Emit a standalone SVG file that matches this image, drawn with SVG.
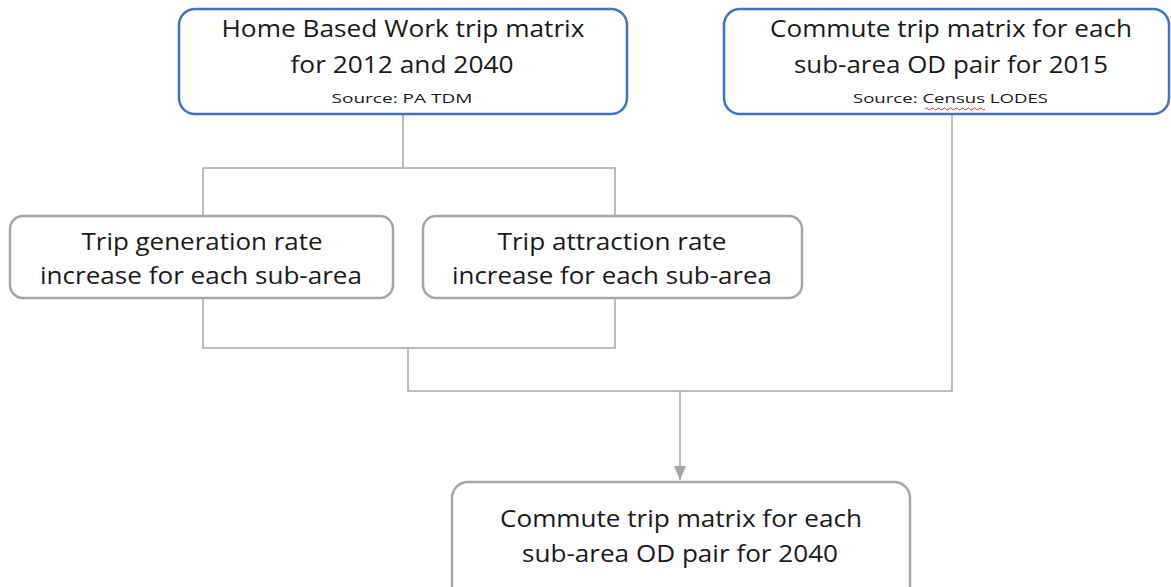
<svg xmlns="http://www.w3.org/2000/svg" width="1171" height="587" viewBox="0 0 1171 587">
<style>
  .bg{fill:#ffffff}
  .blue{fill:#ffffff;stroke:#4472C4;stroke-width:2.5}
  .gray{fill:#ffffff;stroke:#A6A6A6;stroke-width:2.5}
  .t{font-family:"Open Sans","Liberation Sans",sans-serif;font-size:23px;fill:#1a1a1a;text-anchor:middle}
  .s{font-family:"Open Sans","Liberation Sans",sans-serif;font-size:13.5px;fill:#1a1a1a;text-anchor:middle}
  .c{fill:none;stroke:#A6A6A6;stroke-width:1.5}
</style>
<defs>
  <marker id="arr" viewBox="0 0 14 12" refX="14" refY="6" markerWidth="14" markerHeight="12" markerUnits="userSpaceOnUse" orient="auto">
    <path d="M0,0 L14,6 L0,12 Z" fill="#A6A6A6"/>
  </marker>
</defs>
<rect class="bg" x="0" y="0" width="1171" height="587"/>
<g id="connectors">
  <path class="c" d="M403,114 V168"/>
  <path class="c" d="M203,216 V168 H615 V216"/>
  <path class="c" d="M203,298 V348 H615 V298"/>
  <path class="c" d="M408,348 V391 H952 V114"/>
  <path class="c" d="M680,391 V480" marker-end="url(#arr)"/>
</g>
<g id="node-hbw">
  <rect class="blue" x="179" y="9" width="448" height="105" rx="16"/>
  <text class="t" x="403" y="37" textLength="363" lengthAdjust="spacingAndGlyphs">Home Based Work trip matrix</text>
  <text class="t" x="402" y="73" textLength="223" lengthAdjust="spacingAndGlyphs">for 2012 and 2040</text>
  <text class="s" x="402" y="103" textLength="141" lengthAdjust="spacingAndGlyphs">Source: PA TDM</text>
</g>
<g id="node-commute2015">
  <rect class="blue" x="724" y="9" width="445" height="105" rx="16"/>
  <text class="t" x="951" y="37" textLength="362" lengthAdjust="spacingAndGlyphs">Commute trip matrix for each</text>
  <text class="t" x="951" y="73" textLength="314" lengthAdjust="spacingAndGlyphs">sub-area OD pair for 2015</text>
  <text class="s" x="950.5" y="103" textLength="195" lengthAdjust="spacingAndGlyphs">Source: Census LODES</text>
  <path d="M925,109 q1.5,-2 3,0 t3,0 t3,0 t3,0 t3,0 t3,0 t3,0 t3,0 t3,0 t3,0 t3,0 t3,0 t3,0 t3,0 t3,0 t3,0 t3,0 t3,0 t3,0 t3,0" fill="none" stroke="#E03030" stroke-width="1"/>
</g>
<g id="node-generation">
  <rect class="gray" x="10" y="216" width="383" height="82" rx="13"/>
  <text class="t" x="202" y="250" textLength="241" lengthAdjust="spacingAndGlyphs">Trip generation rate</text>
  <text class="t" x="201" y="284" textLength="322" lengthAdjust="spacingAndGlyphs">increase for each sub-area</text>
</g>
<g id="node-attraction">
  <rect class="gray" x="423" y="216" width="379" height="82" rx="13"/>
  <text class="t" x="612" y="250" textLength="229" lengthAdjust="spacingAndGlyphs">Trip attraction rate</text>
  <text class="t" x="612" y="284" textLength="320" lengthAdjust="spacingAndGlyphs">increase for each sub-area</text>
</g>
<g id="node-commute2040">
  <rect class="gray" x="452" y="482" width="458" height="130" rx="16"/>
  <text class="t" x="681" y="527" textLength="362" lengthAdjust="spacingAndGlyphs">Commute trip matrix for each</text>
  <text class="t" x="680" y="562" textLength="316" lengthAdjust="spacingAndGlyphs">sub-area OD pair for 2040</text>
</g>
</svg>
